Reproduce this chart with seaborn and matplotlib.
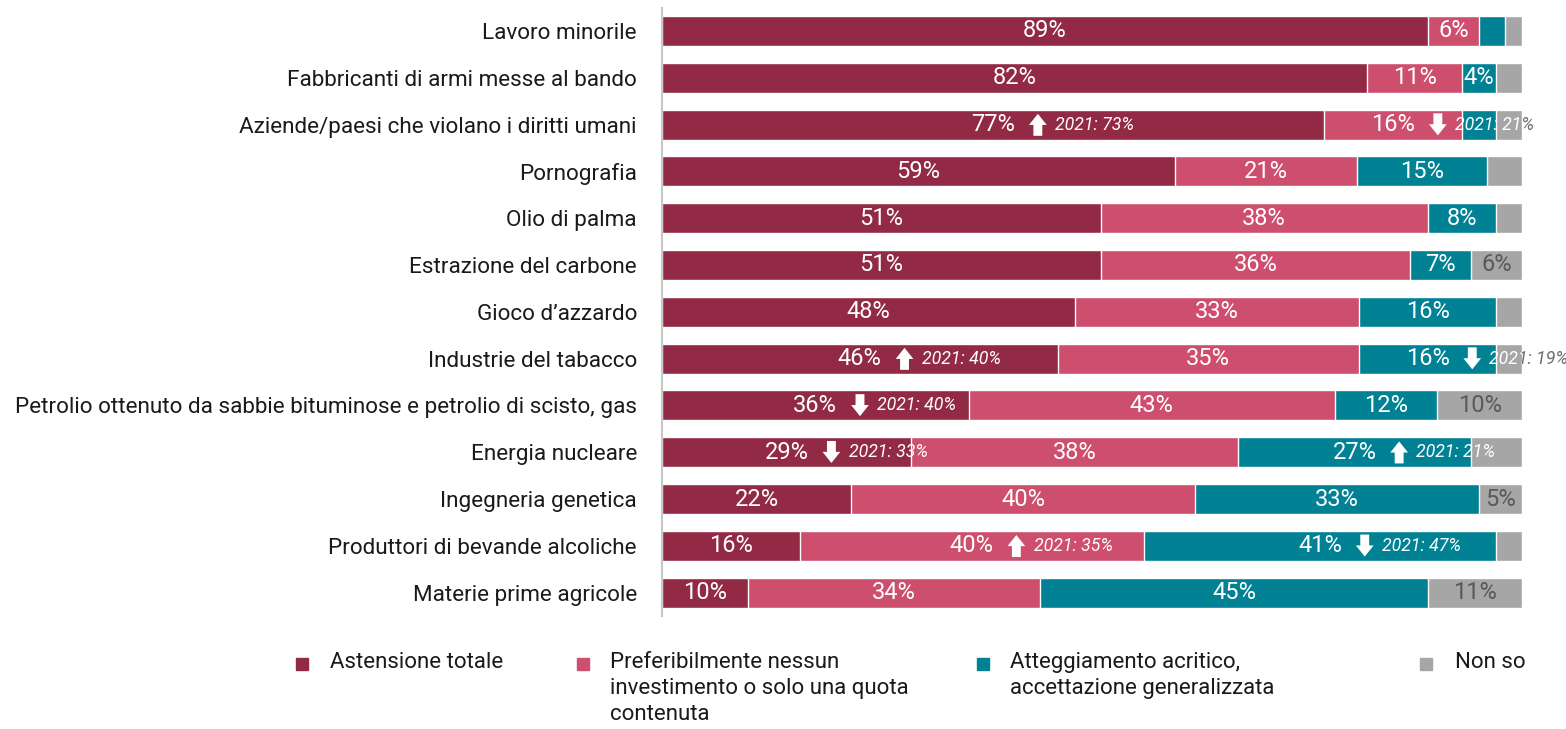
import numpy as np
import pandas as pd
import seaborn as sns
import matplotlib.pyplot as plt
from matplotlib.patches import Rectangle
from matplotlib.transforms import Bbox, TransformedBbox

# Dati del grafico (percentuali)
categorie = [
    "Lavoro minorile",
    "Fabbricanti di armi messe al bando",
    "Aziende/paesi che violano i diritti umani",
    "Pornografia",
    "Olio di palma",
    "Estrazione del carbone",
    "Gioco d’azzardo",
    "Industrie del tabacco",
    "Petrolio ottenuto da sabbie bituminose e petrolio di scisto, gas",
    "Energia nucleare",
    "Ingegneria genetica",
    "Produttori di bevande alcoliche",
    "Materie prime agricole",
]
astensione = [89, 82, 77, 59, 51, 51, 48, 46, 36, 29, 22, 16, 10]
preferibilmente = [6, 11, 16, 21, 38, 36, 33, 35, 43, 38, 40, 40, 34]
acritico = [3, 4, 4, 15, 8, 7, 16, 16, 12, 27, 33, 41, 45]
non_so = [2, 3, 3, 4, 3, 6, 3, 3, 10, 6, 5, 3, 11]

serie = ["Astensione totale",
         "Preferibilmente nessun investimento o solo una quota contenuta",
         "Atteggiamento acritico, accettazione generalizzata",
         "Non so"]
legenda = ["Astensione totale",
           "Preferibilmente nessun\ninvestimento o solo una quota\ncontenuta",
           "Atteggiamento acritico,\naccettazione generalizzata",
           "Non so"]
colori = ["#922A45", "#CE4E6E", "#008194", "#A6A6A6"]

# confronto con il 2021: (riga, serie, direzione, valore 2021)
confronto_2021 = [
    (2, 0, "su", 73), (2, 1, "giu", 21),
    (7, 0, "su", 40), (7, 2, "giu", 19),
    (8, 0, "giu", 40),
    (9, 0, "giu", 33), (9, 2, "su", 21),
    (11, 1, "su", 35), (11, 2, "giu", 47),
]

valori = [astensione, preferibilmente, acritico, non_so]

# Tabella con le somme cumulative (barre sovrapposte = barre impilate)
righe = []
for i, cat in enumerate(categorie):
    v = np.array([s[i] for s in valori], dtype=float)
    cum = np.cumsum(v) / v.sum() * 100
    for nome, c in zip(serie, cum):
        righe.append({"categoria": cat, "serie": nome, "cumulato": c})
df = pd.DataFrame(righe)

sns.set_theme(style="white")
plt.rcParams["font.family"] = ["Roboto", "DejaVu Sans"]

fig = plt.figure(figsize=(15.66, 7.29), dpi=100)
ax = fig.add_axes([0.4227, 0.155, 0.5493, 0.8346])

sns.barplot(data=df, y="categoria", x="cumulato", hue="serie",
            hue_order=serie[::-1], palette=dict(zip(serie, colori)),
            order=categorie, dodge=False, width=0.64, saturation=1,
            errorbar=None, legend=False, ax=ax)

ax.set_xlim(0, 100)
ax.set_ylim(12.5, -0.5)
ax.set_xlabel("")
ax.set_ylabel("")
ax.set_xticks([])
sns.despine(ax=ax, bottom=True)
ax.spines["left"].set_color("#C8C8C8")
ax.spines["left"].set_linewidth(1.5)
ax.tick_params(axis="y", length=0, pad=18, labelsize=16.2, labelcolor="#1A1A1A")

annotati = {(r, s): (d, a) for r, s, d, a in confronto_2021}
fuori = TransformedBbox(Bbox([[100, -1], [140, 14]]), ax.transData)

for i in range(len(categorie)):
    v = np.array([s[i] for s in valori], dtype=float)
    cum = np.cumsum(v) / v.sum() * 100
    inizio = np.concatenate([[0], cum[:-1]])
    for j in range(4):
        val = v[j]
        soglia = 5 if j == 3 else 4
        if val < soglia:
            continue
        if (i, j - 1) in annotati and val < 10:
            continue
        centro = (inizio[j] + cum[j]) / 2
        col = "#595959" if j == 3 else "white"
        ax.text(centro, i, f"{val:.0f}%", ha="center", va="center",
                fontsize=17, color=col)
        if (i, j) in annotati:
            direzione, anno = annotati[(i, j)]
            xa = centro + 5.2
            y0, y1 = (i + 0.24, i - 0.23) if direzione == "su" else (i - 0.24, i + 0.23)
            ax.annotate("", xy=(xa, y1), xytext=(xa, y0),
                        arrowprops=dict(arrowstyle="simple,head_length=0.5,head_width=0.8,tail_width=0.4",
                                        fc="white", ec="none", mutation_scale=16,
                                        shrinkA=0, shrinkB=0))
            testo = f"2021: {anno}%"
            ax.text(xa + 2.0, i, testo, ha="left", va="center", fontsize=12.8,
                    style="italic", color="white", clip_on=True)
            t = ax.text(xa + 2.0, i, testo, ha="left", va="center", fontsize=12.8,
                        style="italic", color="#6E6E6E", clip_on=True)
            t.set_clip_box(fuori)

# Legenda
W, H = 1566, 729
marker_x = [296, 577, 977, 1420]
testo_x = [330, 610, 1010, 1455]
for mx, tx, lab, col in zip(marker_x, testo_x, legenda, colori):
    fig.add_artist(Rectangle((mx / W, 1 - 670 / H), 12 / W, 12 / H,
                             transform=fig.transFigure, color=col))
    fig.text(tx / W, 1 - 652 / H, lab, ha="left", va="top", fontsize=16,
             color="#1A1A1A", linespacing=1.3)

plt.savefig("out.png", dpi=100)
